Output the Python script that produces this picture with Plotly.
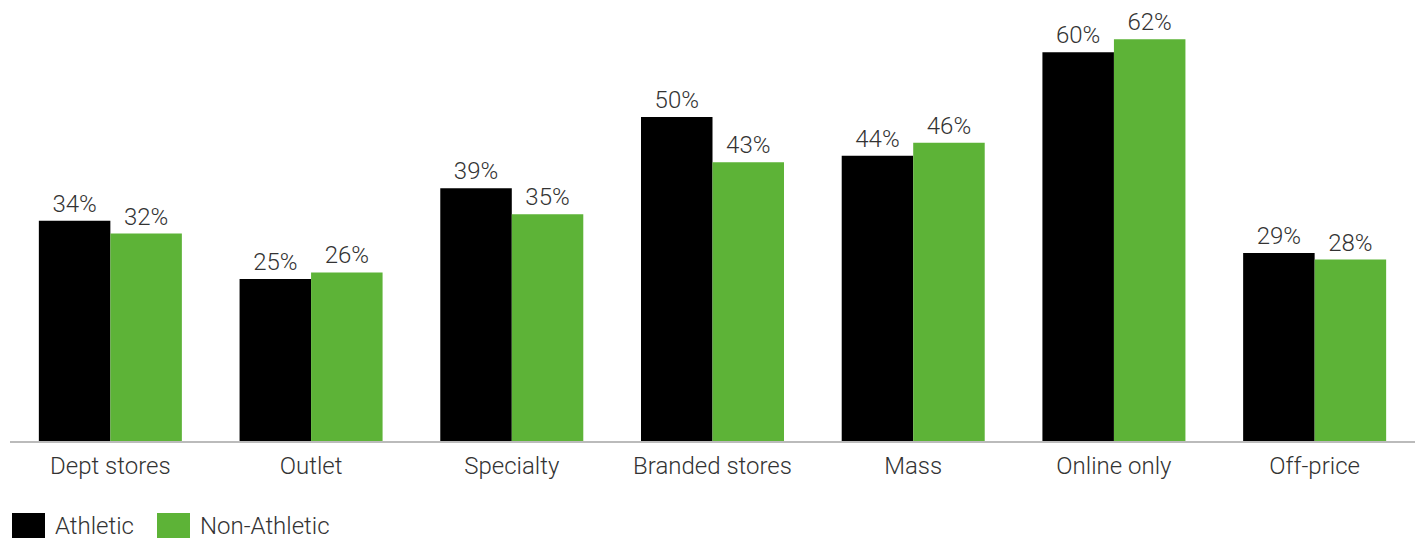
import plotly.graph_objects as go

# Share of shoppers by channel
channels = ["Dept stores", "Outlet", "Specialty", "Branded stores", "Mass", "Online only", "Off-price"]
athletic = [34, 25, 39, 50, 44, 60, 29]
non_athletic = [32, 26, 35, 43, 46, 62, 28]

BLACK = "#000000"
GREEN = "#5db337"
TEXT = "#333333"
FONT = "Roboto"
SIZE = 24

fig = go.Figure()
for name, vals, color in [("Athletic", athletic, BLACK), ("Non-Athletic", non_athletic, GREEN)]:
    fig.add_trace(go.Bar(
        name=name, x=channels, y=vals, marker=dict(color=color, line=dict(width=0)),
        text=[f"{v}%" for v in vals], textposition="outside", cliponaxis=False,
        textfont=dict(family=FONT, size=SIZE, color=TEXT, weight=300),
    ))

fig.update_layout(
    width=1425, height=541,
    margin=dict(l=10, r=10, t=10, b=100),
    barmode="group", bargap=0.2875, bargroupgap=0,
    plot_bgcolor="white", paper_bgcolor="white",
    showlegend=False,
    font=dict(family=FONT, size=SIZE, color=TEXT, weight=300),
    xaxis=dict(showline=True, linecolor="#bbbbbb", linewidth=1.5, ticks="",
               ticklabelstandoff=2,
               tickfont=dict(family=FONT, size=SIZE, color=TEXT, weight=300)),
    yaxis=dict(range=[0, 66.5], visible=False, showgrid=False),
)

# Legend drawn as swatches and labels below the plot
legend_items = [("Athletic", BLACK, 12), ("Non-Athletic", GREEN, 157)]
for label, color, x0 in legend_items:
    fig.add_shape(type="rect", xref="paper", yref="paper",
                  x0=(x0 - 10) / 1405, x1=(x0 + 33 - 10) / 1405,
                  y0=-(538 - 441) / 431, y1=-(513 - 441) / 431,
                  fillcolor=color, line=dict(width=0))
    fig.add_annotation(xref="paper", yref="paper", x=(x0 + 41 - 10) / 1405,
                       y=-(526 - 441) / 431, text=label, showarrow=False,
                       xanchor="left", yanchor="middle",
                       font=dict(family=FONT, size=SIZE, color=TEXT, weight=300))

fig.write_html("out.html")
